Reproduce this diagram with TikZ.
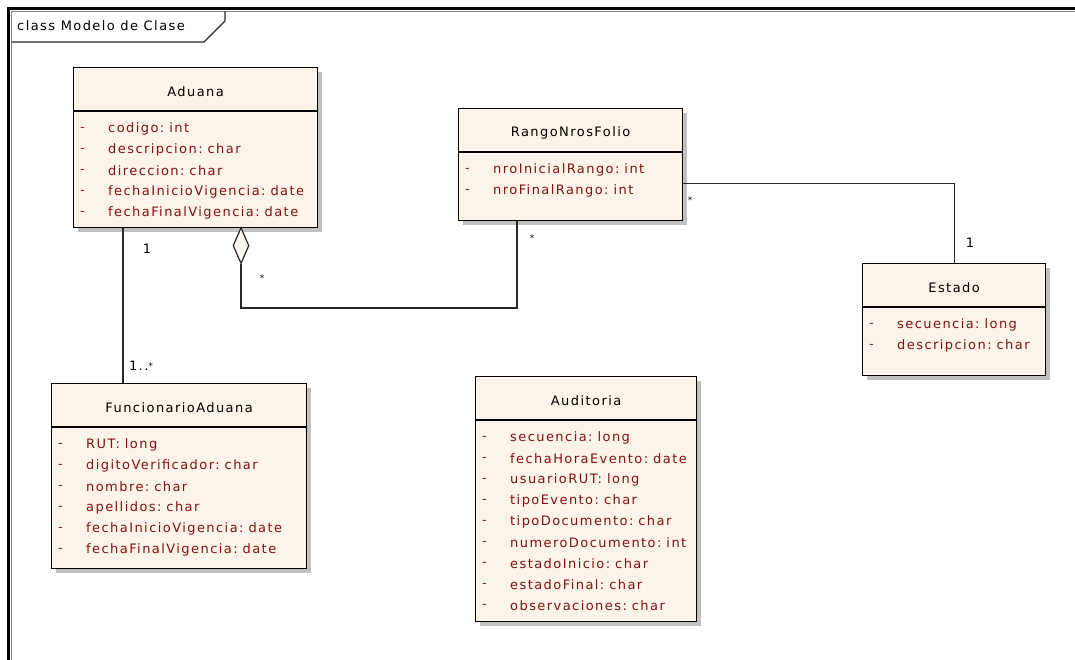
\documentclass[tikz,border=0pt]{standalone}
\usepackage{fontspec}
\setmainfont{DejaVu Sans}[LetterSpace=11]
\usetikzlibrary{shapes.geometric,shadows}

\definecolor{classfill}{RGB}{252,243,233}
\definecolor{attrred}{RGB}{128,18,18}
\definecolor{shadowgray}{RGB}{150,150,150}
\definecolor{linegray}{RGB}{40,40,40}

\tikzset{
  classbox/.style={draw=black, line width=1.2pt, fill=classfill, anchor=north west,
    inner sep=0pt, drop shadow={shadow xshift=4pt, shadow yshift=-4pt, fill=shadowgray, opacity=0.6}},
  boxline/.style={draw=black, line width=1.2pt},
  uitext/.style={inner sep=0pt, font=\fontsize{13}{15}\selectfont},
  titletext/.style={uitext, text=black},
  attrdash/.style={uitext, anchor=west, text=attrred!80!gray},
  attrtext/.style={uitext, anchor=west, text=attrred},
  multlabel/.style={uitext, text=black},
  starlabel/.style={inner sep=0pt, font=\fontsize{9}{10}\selectfont, text=black},
  conn/.style={draw=linegray, line width=1.2pt},
  aggdiamond/.style={shape=diamond, draw=linegray, line width=1.2pt, fill=classfill!60!white,
    minimum width=16pt, minimum height=36pt, inner sep=0pt, anchor=north},
}

% class box: name, x, y, width, height, title, attribute list
\newcommand\umlclass[7]{%
  \node[classbox, minimum width=#4pt, minimum height=#5pt] (#1) at (#2,#3) {};
  \draw[boxline] ([yshift=-44pt]#1.north west) -- ([yshift=-44pt]#1.north east);
  \node[titletext] (#1-title) at ([yshift=-25pt]#1.north) {#6};
  \foreach \a [count=\i] in {#7} {%
    \pgfmathsetmacro\dy{-62-21*(\i-1)}
    \node[attrdash] (#1-dash-\i) at ([xshift=7pt, yshift=\dy pt]#1.north west) {-};
    \node[attrtext] (#1-attr-\i) at ([xshift=35pt, yshift=\dy pt]#1.north west) {\a};
  }%
}
% attribute name/type separator
\newcommand\attrgap{\hspace{5pt}}

\begin{document}
\begin{tikzpicture}[x=1pt, y=-1pt]
  \useasboundingbox (0,0) rectangle (1075,660);
  \fill[white] (0,0) rectangle (1075,660);

  % diagram frame and its name tab
  \draw[black, line width=2.5pt] (8.5,660) -- (8.5,8.5) -- (1075,8.5);
  \draw[gray, line width=1pt] (11.5,660) -- (11.5,11.5) -- (1075,11.5);
  \draw[linegray, line width=1.2pt] (11.5,42) -- (204,42) -- (225,21) -- (225,11.5);
  \node[uitext, anchor=west] (frame-label) at (17,26) {class Modelo de Clase};

  % classes
  \umlclass{aduana}{73}{67}{244}{160}{Aduana}{%
    codigo:\attrgap int, descripcion:\attrgap char, direccion:\attrgap char,
    fechaInicioVigencia:\attrgap date, fechaFinalVigencia:\attrgap date}
  \umlclass{rango}{458}{108}{224}{112}{RangoNrosFolio}{%
    nroInicialRango:\attrgap int, nroFinalRango:\attrgap int}
  \umlclass{estado}{862}{263}{183}{112}{Estado}{%
    secuencia:\attrgap long, descripcion:\attrgap char}
  \umlclass{funcionario}{51}{383}{255}{185}{FuncionarioAduana}{%
    RUT:\attrgap long, digitoVerificador:\attrgap char, nombre:\attrgap char,
    apellidos:\attrgap char, fechaInicioVigencia:\attrgap date,
    fechaFinalVigencia:\attrgap date}
  \umlclass{auditoria}{475}{376}{221}{245}{Auditoria}{%
    secuencia:\attrgap long, fechaHoraEvento:\attrgap date, usuarioRUT:\attrgap long,
    tipoEvento:\attrgap char, tipoDocumento:\attrgap char,
    numeroDocumento:\attrgap int, estadoInicio:\attrgap char,
    estadoFinal:\attrgap char, observaciones:\attrgap char}

  % Aduana 1 -- 1..* FuncionarioAduana
  \draw[conn] ([xshift=50pt]aduana.south west) -- ([xshift=72pt]funcionario.north west);
  \node[multlabel] (m-aduana) at (147,249) {1};
  \node[multlabel] (m-funcionario) at (141,366) {1..\raisebox{1pt}{\fontsize{9}{10}\selectfont*}};

  % Aduana <>-- RangoNrosFolio (aggregation)
  \node[aggdiamond] (agg) at (241,227) {};
  \coordinate (aggbend) at (517,308);
  \draw[conn] (agg.south) |- (aggbend) -- ([xshift=59pt]rango.south west);
  \node[starlabel] (m-agg) at (262,278) {*};
  \node[starlabel] (m-rango) at (532,238) {*};

  % RangoNrosFolio * -- 1 Estado
  \draw[conn] ([yshift=-19pt]rango.east) -| (estado.north);
  \node[starlabel] (m-rango2) at (690,200) {*};
  \node[multlabel] (m-estado) at (970,243) {1};
\end{tikzpicture}
\end{document}
